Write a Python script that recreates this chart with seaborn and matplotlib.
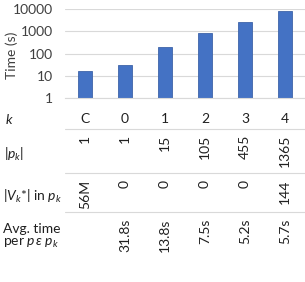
import matplotlib
matplotlib.use("Agg")
import matplotlib.pyplot as plt
import matplotlib.transforms as mtransforms
from matplotlib.lines import Line2D
from matplotlib.ticker import FixedLocator, FixedFormatter, NullLocator
import seaborn as sns

# chart data
k_labels = ["C", "0", "1", "2", "3", "4"]
times = [16.5, 32, 200, 820, 2550, 8200]
p_sizes = ["1", "1", "15", "105", "455", "1365"]
v_counts = ["56M", "0", "0", "0", "0", "144"]
avg_times = ["", "31.8s", "13.8s", "7.5s", "5.2s", "5.7s"]
y_ticks = [1, 10, 100, 1000, 10000]

W, H = 305, 282
sns.set_style("white")
plt.rcParams["font.family"] = ["Lato", "DejaVu Sans"]
plt.rcParams["mathtext.fontset"] = "custom"
plt.rcParams["mathtext.it"] = "Lato:italic"
plt.rcParams["mathtext.rm"] = "Lato"

FS = 10
fig = plt.figure(figsize=(W / 100, H / 100), dpi=100)
ax = fig.add_axes([65 / W, 1 - 98.3 / H, 240 / W, 89.3 / H])

sns.barplot(x=k_labels, y=times, ax=ax, color="#4472C4", width=0.35,
            edgecolor="#3E64A8", linewidth=0.6, saturation=1)
ax.set_yscale("log")
ax.set_ylim(1, 10000)
ax.set_xlim(-0.5, 5.5)
ax.yaxis.set_major_locator(FixedLocator(y_ticks))
ax.yaxis.set_major_formatter(FixedFormatter([str(t) for t in y_ticks]))
ax.yaxis.set_minor_locator(NullLocator())
ax.set_xticks([])
ax.tick_params(axis="y", length=0, pad=9, labelsize=FS, colors="#404040")
ax.grid(axis="y", color="#d9d9d9", linewidth=0.8)
ax.set_axisbelow(True)
for s in ["top", "right", "left"]:
    ax.spines[s].set_visible(False)
ax.spines["bottom"].set_color("#d9d9d9")
ax.set_ylabel("")
ax.set_xlabel("")
fig.text(12 / W, 1 - 55 / H, "Time (s)", rotation=90, ha="center", va="center",
         fontsize=FS, color="#404040")

# table below chart
tr = mtransforms.blended_transform_factory(ax.transData, fig.transFigure)
def fy(py):
    return 1 - py / H

txt = dict(fontsize=FS, color="#202020")
fig.text(5 / W, fy(119), "$k$", ha="left", va="center", **txt)
fig.text(4 / W, fy(154), "$|p_k|$", ha="left", va="center", **txt)
fig.text(3 / W, fy(196), "$|V_k$*$|$ in $p_k$", ha="left", va="center", **txt)
fig.text(3 / W, fy(229), "Avg. time", ha="left", va="center", **txt)
fig.text(3 / W, fy(243), r"per $p\,\epsilon\;p_k$", ha="left", va="center", **txt)

for i, lab in enumerate(k_labels):
    ax.text(i, fy(119), lab, transform=tr, ha="center", va="center", **txt)
    ax.text(i, fy(135), p_sizes[i], transform=tr, ha="center", va="top",
            rotation=90, **txt)
    ax.text(i, fy(180), v_counts[i], transform=tr, ha="center", va="top",
            rotation=90, **txt)
    if avg_times[i]:
        ax.text(i, fy(219), avg_times[i], transform=tr, ha="center", va="top",
                rotation=90, **txt)

for py in [129.3, 172.7, 211.7]:
    fig.add_artist(Line2D([65 / W, 1], [fy(py), fy(py)], color="#d9d9d9",
                          linewidth=0.8, transform=fig.transFigure))

fig.savefig("out.png", dpi=100)
